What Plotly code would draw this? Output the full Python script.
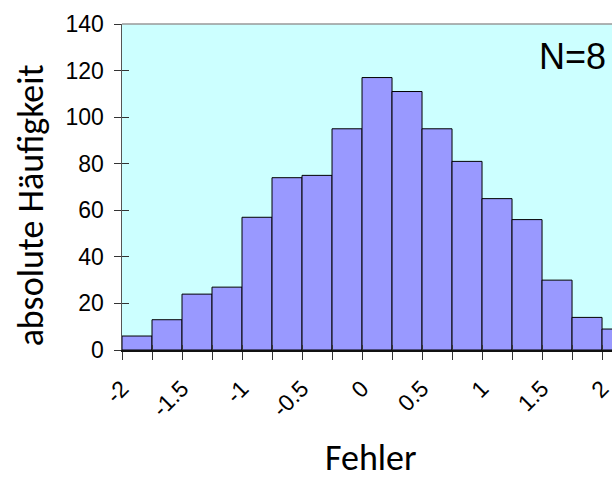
import plotly.graph_objects as go

# Data (bin left edges, width 0.25)
bin_left = [-2.0, -1.75, -1.5, -1.25, -1.0, -0.75, -0.5, -0.25, 0.0,
            0.25, 0.5, 0.75, 1.0, 1.25, 1.5, 1.75, 2.0]
counts = [6, 13, 24, 27, 57, 74, 75, 95, 117, 111, 95, 81, 65, 56, 30, 14, 9]
bin_width = 0.25
x_tickvals = [-2, -1.5, -1, -0.5, 0, 0.5, 1, 1.5, 2]
x_ticktext = ["-2", "-1.5", "-1", "-0.5", "0", "0.5", "1", "1.5", "2"]
y_tickvals = [0, 20, 40, 60, 80, 100, 120, 140]

centers = [b + bin_width / 2 for b in bin_left]

W, H = 614, 479
ML, MR, MT, MB = 122, 0, 24, 129
pw = W - ML - MR
ph = H - MT - MB
px_per_unit = 120.5  # x pixels per data unit
x_max = -2 + pw / px_per_unit

def py(page_y):
    """paper y fraction from page pixel y"""
    return (MT + ph - page_y) / ph

def px(page_x):
    return (page_x - ML) / pw

tick_font = dict(family="Liberation Sans, Arial, sans-serif", size=23, color="black")
title_font = dict(family="Carlito, Calibri, Lato, sans-serif", size=36, color="black")

fig = go.Figure()
fig.add_trace(go.Bar(
    x=centers, y=counts, width=[bin_width] * len(counts),
    marker=dict(color="#9999FF", line=dict(color="black", width=1)),
    hoverinfo="skip", showlegend=False,
))
# invisible trace to host the overlay axes (inside tick halves)
fig.add_trace(go.Scatter(x=[0], y=[0], xaxis="x2", yaxis="y2", mode="markers",
                         marker=dict(opacity=0), showlegend=False, hoverinfo="skip"))

fig.update_layout(
    width=W, height=H,
    margin=dict(l=ML, r=MR, t=MT, b=MB, pad=0),
    paper_bgcolor="white", plot_bgcolor="#CCFFFF",
    bargap=0,
    xaxis=dict(range=[-2, x_max], tickvals=x_tickvals, ticktext=x_ticktext,
               tickangle=-45, ticks="outside", ticklen=8, tickcolor="#333",
               minor=dict(tickvals=bin_left + [2.25], ticks="outside",
                          ticklen=8, tickcolor="#333"),
               showgrid=False, zeroline=False, showline=True,
               linecolor="#111", linewidth=2, tickfont=tick_font,
               ticklabelstandoff=6, ticklabeloverflow="allow"),
    yaxis=dict(range=[0, 140], tickvals=y_tickvals, ticks="outside", ticklen=7,
               tickcolor="#333", showgrid=False, zeroline=False, showline=True,
               linecolor="#555", linewidth=1.5, tickfont=tick_font,
               ticklabelstandoff=5),
    xaxis2=dict(overlaying="x", range=[-2, x_max], tickvals=bin_left + [2.25],
                ticks="inside", ticklen=5, tickcolor="#333", showticklabels=False,
                showgrid=False, zeroline=False, showline=False, matches="x"),
    yaxis2=dict(overlaying="y", range=[0, 140], tickvals=y_tickvals,
                ticks="inside", ticklen=7, tickcolor="#333", showticklabels=False,
                showgrid=False, zeroline=False, showline=False, matches="y"),
    shapes=[dict(type="line", xref="paper", yref="paper", x0=0, x1=1, y0=1, y1=1,
                 line=dict(color="#999", width=1.5))],
    annotations=[
        dict(text="N=8", xref="paper", yref="paper",
             x=px(539), y=py(56.5),
             xanchor="left", yanchor="middle", showarrow=False,
             font=dict(family="Liberation Sans, Arial, sans-serif", size=36, color="black")),
        dict(text="absolute Häufigkeit", xref="paper", yref="paper",
             x=px(31), y=py(205), textangle=-90,
             xanchor="center", yanchor="middle", showarrow=False, font=title_font),
        dict(text="Fehler", xref="paper", yref="paper",
             x=px(372), y=py(458),
             xanchor="center", yanchor="middle", showarrow=False, font=title_font),
    ],
)

fig.write_html(
    "out.html",
    config={"displayModeBar": False, "staticPlot": True},
    post_script="document.body.style.margin='0';document.body.style.overflow='hidden';",
)
